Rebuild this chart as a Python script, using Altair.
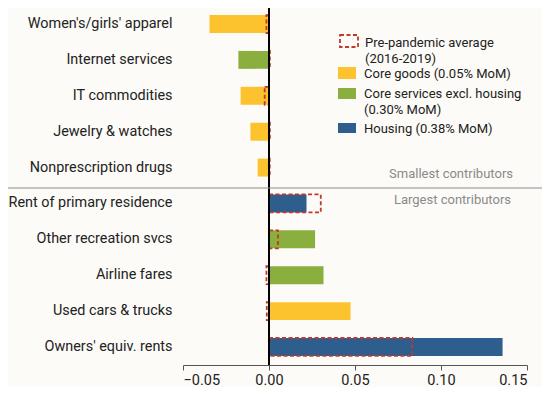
import altair as alt
import pandas as pd

items = ["Women's/girls' apparel", "Internet services", "IT commodities",
         "Jewelry & watches", "Nonprescription drugs", "Rent of primary residence",
         "Other recreation svcs", "Airline fares", "Used cars & trucks",
         "Owners' equiv. rents"]
groups = ["goods", "services", "goods", "goods", "goods",
          "housing", "services", "services", "goods", "housing"]
current = [-0.0346, -0.0178, -0.0165, -0.0108, -0.0066,
           0.0218, 0.0268, 0.0317, 0.0474, 0.1358]
prepandemic = [-0.0015, 0.0005, -0.0025, 0.0005, 0.0004,
               0.0301, 0.0052, -0.0015, -0.0013, 0.0833]
x_ticks = [-0.05, 0.0, 0.05, 0.10, 0.15]

group_domain = ["goods", "services", "housing"]
group_colors = ["#fcc32e", "#8aaf3e", "#2d5e8d"]
RED = "#c0392b"

df = pd.DataFrame({"item": items, "group": groups,
                   "current": current, "pre": prepandemic})
one = pd.DataFrame({"k": [0]})

W, H = 344, 355

yscale = alt.Scale(domain=items, paddingInner=0.5, paddingOuter=0.196)
xscale = alt.Scale(domain=[-0.05, 0.15], nice=False, zero=False)

y_enc = alt.Y("item:N", sort=items, scale=yscale,
              axis=alt.Axis(title=None, domain=False, ticks=False,
                            labelPadding=11, labelFontSize=14.4,
                            labelColor="#222", labelFont="Roboto",
                            labelFontWeight="normal", labelLimit=300))

bars = alt.Chart(df).mark_bar().encode(
    y=y_enc,
    x=alt.X("current:Q", scale=xscale,
            axis=alt.Axis(values=x_ticks, format=".2f", title=None, grid=False,
                          domainColor="#555", tickColor="#555", tickSize=5,
                          labelFontSize=14.5, labelColor="#222", labelFont="Roboto",
                          labelFontWeight="normal", labelPadding=3, offset=2)),
    x2=alt.datum(0),
    color=alt.Color("group:N", scale=alt.Scale(domain=group_domain, range=group_colors),
                    legend=None),
)

pre = alt.Chart(df).mark_bar(fill="transparent", stroke=RED, strokeWidth=1.8,
                             strokeDash=[4, 2.5]).encode(
    y=alt.Y("item:N", sort=items, scale=yscale),
    x=alt.X("pre:Q", scale=xscale),
    x2=alt.datum(0),
)

zero = alt.Chart(one).mark_rule(color="black", strokeWidth=2).encode(
    x=alt.datum(0), y=alt.value(0), y2=alt.value(H + 2))

sep = alt.Chart(one).mark_rule(color="#8c8c8c", strokeWidth=1.2).encode(
    x=alt.value(-175), x2=alt.value(W + 20), y=alt.value(180))

def txt(s, x, y, color="#222", size=13, align="left"):
    return alt.Chart(one).mark_text(text=s, align=align, baseline="middle",
                                    font="Roboto", fontSize=size, fontWeight="normal",
                                    color=color).encode(
        x=alt.value(x), y=alt.value(y))

def box(x, y, w, h, fill=None, dashed=False):
    if dashed:
        m = alt.Chart(one).mark_rect(fill="transparent", stroke=RED, strokeWidth=1.8,
                                     strokeDash=[4, 2.5])
    else:
        m = alt.Chart(one).mark_rect(fill=fill)
    return m.encode(x=alt.value(x), x2=alt.value(x + w),
                    y=alt.value(y), y2=alt.value(y + h))

legend = [
    box(157, 27, 18, 12, dashed=True),
    txt("Pre-pandemic average", 182, 35),
    txt("(2016-2019)", 182, 50.5),
    box(155, 59, 18, 12, fill=group_colors[0]),
    txt("Core goods (0.05% MoM)", 181, 65.5),
    box(155, 80, 18, 11, fill=group_colors[1]),
    txt("Core services excl. housing", 181, 85.5),
    txt("(0.30% MoM)", 181, 101.5),
    box(155, 115, 18, 10, fill=group_colors[2]),
    txt("Housing (0.38% MoM)", 181, 121),
    txt("Smallest contributors", 330, 166, color="#8a8a8a", align="right"),
    txt("Largest contributors", 328, 192, color="#8a8a8a", align="right"),
]

chart = alt.layer(bars, pre, zero, sep, *legend).properties(
    width=W, height=H,
    autosize=alt.AutoSizeParams(type="none"),
    padding={"left": 175, "top": 0, "right": 15, "bottom": 24},
    background="#fcfbf7",
).configure_view(stroke=None)

chart.save("out.html", embed_options={"renderer": "svg", "actions": False})
